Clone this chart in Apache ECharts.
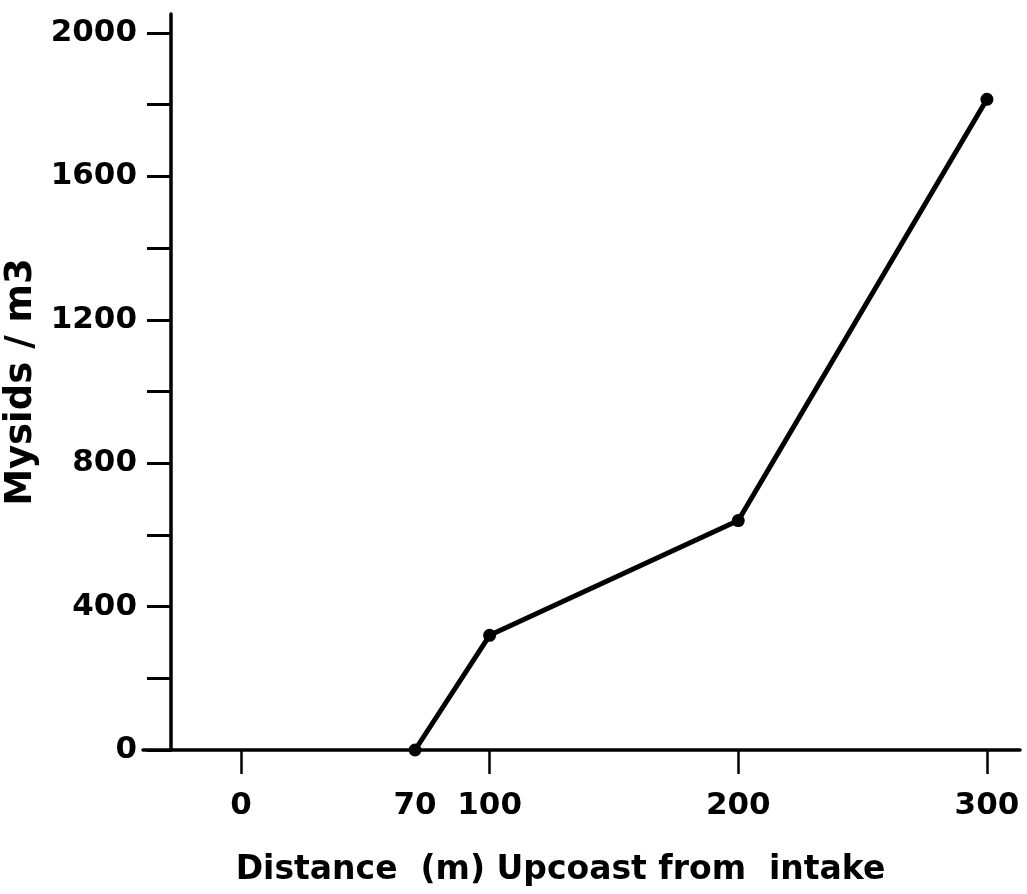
<!DOCTYPE html>
<html>
<head>
<meta charset="utf-8">
<title>Mysids upcoast from intake</title>
<script src="https://cdn.jsdelivr.net/npm/echarts@6/dist/echarts.min.js"></script>
<style>
  html, body { margin: 0; padding: 0; background: #fff; }
  #chart { width: 1027px; height: 894px; }
</style>
</head>
<body>
<div id="chart"></div>
<script>
// Distance upcoast from the intake (m) and mysid density (per m3)
const distances = [70, 100, 200, 300];
const mysids = [0, 320, 640, 1815];

// Axis ticks and labels
const xTickValues = [0, 100, 200, 300];
const xLabelValues = [0, 70, 100, 200, 300];
const yTickValues = [0, 200, 400, 600, 800, 1000, 1200, 1400, 1600, 1800, 2000];
const yLabelValues = [0, 400, 800, 1200, 1600, 2000];

const xTitle = 'Distance  (m) Upcoast from  intake';
const yTitle = 'Mysids / m3';

const ink = '#000';
const font = '"DejaVu Sans", sans-serif';
const plain = v => String(v);

const chart = echarts.init(document.getElementById('chart'), null, { renderer: 'canvas' });

chart.setOption({
  backgroundColor: '#fff',
  animation: false,
  grid: {
    left: 143, right: 7, top: 14, bottom: 144,
    outerBoundsMode: 'none'
  },
  xAxis: {
    type: 'value',
    min: -39.4,
    max: 313.3,
    axisLine: { show: true, onZero: false, lineStyle: { color: ink, width: 3.5 } },
    axisTick: {
      show: true, inside: false, length: 24,
      customValues: xTickValues,
      lineStyle: { color: ink, width: 2.5 }
    },
    axisLabel: {
      customValues: xLabelValues,
      formatter: plain,
      margin: 40,
      color: ink, fontFamily: font, fontSize: 31, fontWeight: 'bold'
    },
    splitLine: { show: false },
    name: xTitle,
    nameLocation: 'middle',
    nameGap: 104,
    nameTextStyle: {
      color: ink, fontFamily: font, fontSize: 33, fontWeight: 'bold',
      padding: [0, 42, 0, 0]
    }
  },
  yAxis: {
    type: 'value',
    min: 0,
    max: 2053,
    offset: -28,
    axisLine: { show: true, onZero: false, lineStyle: { color: ink, width: 3.5 } },
    axisTick: {
      show: true, inside: false, length: 24,
      customValues: yTickValues,
      lineStyle: { color: ink, width: 3 }
    },
    axisLabel: {
      customValues: yLabelValues,
      formatter: plain,
      margin: 34,
      color: ink, fontFamily: font, fontSize: 31, fontWeight: 'bold'
    },
    splitLine: { show: false },
    name: yTitle,
    nameLocation: 'middle',
    nameGap: 118,
    nameTextStyle: {
      color: ink, fontFamily: font, fontSize: 37, fontWeight: 'bold'
    }
  },
  series: [{
    type: 'line',
    data: distances.map((d, i) => [d, mysids[i]]),
    clip: false,
    symbol: 'circle',
    symbolSize: 13,
    itemStyle: { color: ink },
    lineStyle: { color: ink, width: 5 }
  }]
});
</script>
</body>
</html>
